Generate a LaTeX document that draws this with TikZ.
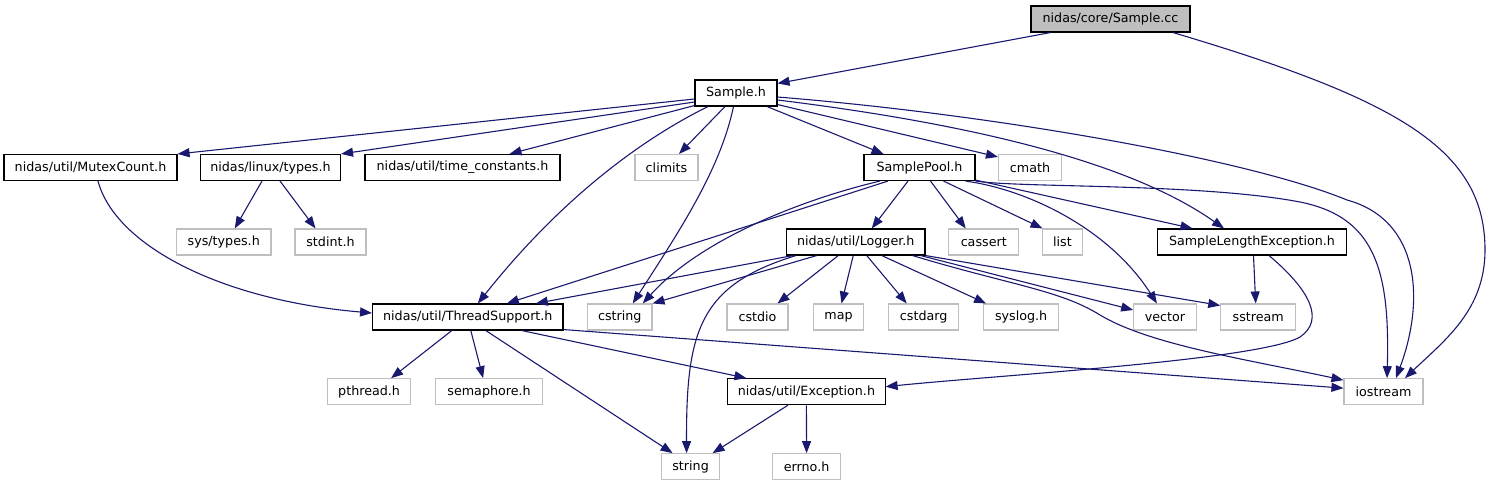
\documentclass[tikz,border=0pt]{standalone}
\usepackage{fontspec}
\newfontfamily\dv{DejaVu Sans}
\usetikzlibrary{arrows.meta}
\definecolor{edgeblue}{HTML}{191970}
\definecolor{grayline}{HTML}{BFBFBF}
\definecolor{grayfill}{HTML}{BFBFBF}
\tikzset{
  hdr/.style={draw=black, line width=1.1pt, fill=white, inner sep=0pt, minimum height=26pt,
    font=\dv\fontsize{12.7}{14}\selectfont},
  sys/.style={hdr, draw=grayline},
  root/.style={hdr, fill=grayfill},
  e/.style={draw=edgeblue, line width=1.1pt, -{Triangle[length=12pt,width=9pt]}}
}
\begin{document}
\begin{tikzpicture}[x=1pt,y=-1pt]
\useasboundingbox (0,0) rectangle (1491,485);
% row 0
\node[root, minimum width=159pt] (cc) at (1110.5,19) {nidas/core/Sample.cc};
% row 1
\node[hdr, minimum width=82pt] (sampleh) at (736,93) {Sample.h};
% row 2
\node[hdr, minimum width=173pt] (mutex) at (90.5,167.5) {nidas/util/MutexCount.h};
\node[hdr, minimum width=140pt] (ltypes) at (270.5,167.5) {nidas/linux/types.h};
\node[hdr, minimum width=195pt] (timec) at (462.5,167.5) {nidas/util/time\_constants.h};
\node[sys, minimum width=63pt] (climits) at (666.5,167.5) {climits};
\node[hdr, minimum width=111pt] (pool) at (919.5,167.5) {SamplePool.h};
\node[sys, minimum width=63pt] (cmath) at (1030,167.5) {cmath};
% row 3
\node[sys, minimum width=94.5pt] (systypes) at (223.75,242) {sys/types.h};
\node[sys, minimum width=71pt] (stdint) at (330.5,242) {stdint.h};
\node[hdr, minimum width=138.5pt] (logger) at (855.75,242) {nidas/util/Logger.h};
\node[sys, minimum width=70pt] (cassert) at (983.75,242) {cassert};
\node[sys, minimum width=39.7pt] (list) at (1062.5,242) {list};
\node[hdr, minimum width=188.7pt] (sle) at (1252,242) {SampleLengthException.h};
% row 4
\node[hdr, minimum width=190.4pt] (thread) at (467.8,317) {nidas/util/ThreadSupport.h};
\node[sys, minimum width=64.5pt] (cstring) at (619.75,317) {cstring};
\node[sys, minimum width=61pt] (cstdio) at (757.5,317) {cstdio};
\node[sys, minimum width=50.3pt] (map) at (838.5,317) {map};
\node[sys, minimum width=70.4pt] (cstdarg) at (923.7,317) {cstdarg};
\node[sys, minimum width=74.7pt] (syslog) at (1021.1,317) {syslog.h};
\node[sys, minimum width=62.3pt] (vector) at (1164.9,317) {vector};
\node[sys, minimum width=74.8pt] (sstream) at (1258.2,317) {sstream};
% row 5
\node[sys, minimum width=82.8pt] (pthread) at (369.1,391.7) {pthread.h};
\node[sys, minimum width=106.7pt] (semaphore) at (489.1,391.7) {semaphore.h};
\node[hdr, minimum width=157.3pt] (exception) at (806.4,391.7) {nidas/util/Exception.h};
\node[sys, minimum width=79pt] (iostream) at (1383.5,391.7) {iostream};
% row 6
\node[sys, minimum width=57.9pt] (string) at (690.6,466.7) {string};
\node[sys, minimum width=68pt] (errno) at (806.6,466.7) {errno.h};

% Sample.cc
\draw[e] ([xshift=-60pt]cc.south) -- ([yshift=-4pt]sampleh.north east);
\draw[e] ([xshift=62.5pt]cc.south) .. controls (1400,100) and (1485,150) .. (1485,250)
  .. controls (1485,310) and (1445,340) .. ([xshift=21.5pt]iostream.north);
% Sample.h
\draw[e] ([yshift=-6pt]sampleh.west) -- (mutex.north east);
\draw[e] ([yshift=-9pt]sampleh.west) -- (ltypes.north east);
\draw[e] ([yshift=1pt]sampleh.south west) -- ([xshift=47pt]timec.north);
\draw[e] ([xshift=-11pt]sampleh.south) -- ([xshift=12.5pt]climits.north);
\draw[e] ([xshift=-28pt]sampleh.south) .. controls (640,140) and (560,200) .. ([xshift=10pt]thread.north);
\draw[e] ([xshift=-2.5pt]sampleh.south) .. controls (720,170) and (680,230) .. ([xshift=13pt]cstring.north);
\draw[e] ([xshift=31pt]sampleh.south) -- ([xshift=-36pt]pool.north);
\draw[e] ([yshift=2pt]sampleh.south east) -- ([yshift=-3pt]cmath.north west);
\draw[e] ([yshift=-7pt]sampleh.east) .. controls (940,120) and (1120,155) .. ([xshift=-28pt]sle.north);
\draw[e] ([yshift=-4pt]sampleh.east) .. controls (1000,115) and (1250,160) .. (1347,200)
  .. controls (1420,220) and (1425,300) .. ([xshift=12.5pt]iostream.north);
% SamplePool.h
\draw[e] ([xshift=-31.5pt]pool.south) -- ([xshift=39pt]thread.north);
\draw[e] ([xshift=-39.5pt]pool.south) .. controls (800,200) and (700,240) .. ([xshift=23pt]cstring.north);
\draw[e] ([xshift=-11.5pt]pool.south) -- ([xshift=16pt]logger.north);
\draw[e] ([xshift=11pt]pool.south) -- ([xshift=-18pt]cassert.north);
\draw[e] ([xshift=24pt]pool.south) -- ([xshift=-20pt]list.north);
\draw[e] ([xshift=-10pt]pool.south east) .. controls (1030,190) and (1110,230) .. ([xshift=-8pt]vector.north);
\draw[e] ([yshift=1pt]pool.south east) -- ([xshift=-59.5pt]sle.north);
\draw[e] (pool.south east) .. controls (1020,188) and (1200,183) .. (1300,202)
  .. controls (1375,217) and (1390,270) .. ([xshift=3.5pt]iostream.north);
% Logger.h
\draw[e] ([xshift=7pt]logger.south west) -- ([xshift=68pt]thread.north);
\draw[e] ([xshift=-39pt]logger.south) -- (cstring.north east);
\draw[e] ([xshift=10pt]logger.south west) .. controls (700,285) and (686,330) .. ([xshift=-4pt]string.north);
\draw[e] ([xshift=-17.5pt]logger.south) -- ([xshift=20pt]cstdio.north);
\draw[e] ([xshift=-2.5pt]logger.south) -- ([xshift=3pt]map.north);
\draw[e] ([xshift=11pt]logger.south) -- ([xshift=-17pt]cstdarg.north);
\draw[e] ([xshift=26pt]logger.south) -- ([xshift=-35pt]syslog.north);
\draw[e] ([xshift=-5pt]logger.south east) -- ([yshift=7pt]vector.west);
\draw[e] (logger.south east) -- ([yshift=-2pt]sstream.north west);
\draw[e] ([xshift=-13pt]logger.south east) .. controls (1010,285) and (1060,290) .. (1100,315)
  .. controls (1150,345) and (1250,360) .. ([yshift=-2pt]iostream.north west);
% ThreadSupport.h
\draw[e] ([xshift=-16pt]thread.south) -- ([xshift=22pt]pthread.north);
\draw[e] ([xshift=3pt]thread.south) -- ([xshift=-6pt]semaphore.north);
\draw[e] ([xshift=18pt]thread.south) -- ([xshift=-18pt]string.north);
\draw[e] ([xshift=54pt]thread.south) -- ([xshift=-60pt]exception.north);
\draw[e] ([yshift=1pt]thread.south east) -- ([yshift=-10pt]iostream.north west);
% MutexCount.h
\draw[e] ([xshift=7.5pt]mutex.south) .. controls (115,245) and (220,300) .. ([yshift=4pt]thread.west);
% linux/types.h
\draw[e] ([xshift=-8.5pt]ltypes.south) -- ([xshift=11pt]systypes.north);
\draw[e] ([xshift=9.5pt]ltypes.south) -- ([xshift=-15pt]stdint.north);
% SampleLengthException.h
\draw[e] ([xshift=1.5pt]sle.south) -- ([xshift=-2.5pt]sstream.north);
\draw[e] ([xshift=17pt]sle.south) .. controls (1310,290) and (1325,320) .. (1300,337)
  .. controls (1260,360) and (1000,375) .. ([yshift=5pt]exception.east);
% Exception.h
\draw[e] ([xshift=-18.5pt]exception.south) -- ([xshift=22pt]string.north);
\draw[e] (exception.south) -- (errno.north);
\end{tikzpicture}
\end{document}
